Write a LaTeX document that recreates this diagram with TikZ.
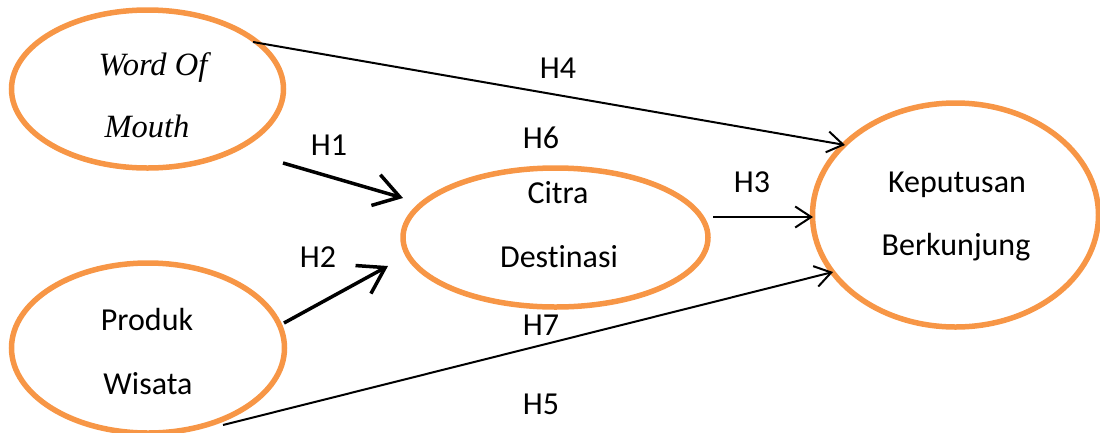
\documentclass[tikz,border=0pt]{standalone}
\usepackage{fontspec}
\setmainfont{Carlito}[Ligatures={NoCommon}]
\newfontfamily\serifit{Liberation Serif}
\usetikzlibrary{arrows.meta,shapes.geometric}
\definecolor{orng}{HTML}{F79646}
\begin{document}
\begin{tikzpicture}[x=1pt,y=-1pt,
  ell/.style={draw=orng, line width=5.5pt, ellipse, inner sep=0pt},
  txt/.style={anchor=base, inner sep=0pt, font=\fontsize{32}{36}\selectfont},
  stxt/.style={anchor=base, inner sep=0pt, font=\serifit\itshape\fontsize{32.5}{36}\selectfont},
  lbl/.style={anchor=base, inner sep=0pt, font=\fontsize{32}{36}\selectfont},
  thin/.style={line width=2pt, -{Straight Barb[length=16pt,width=21pt]}},
  thick/.style={line width=3.5pt, -{Straight Barb[length=25pt,width=32pt]}}]
\useasboundingbox (0,0) rectangle (1100,432);
% ellipses
\node[ell, minimum width=272pt, minimum height=158pt] (wom) at (147.5,89) {};
\node[ell, minimum width=305pt, minimum height=139pt] (cd) at (555.5,237.5) {};
\node[ell, minimum width=286pt, minimum height=224pt] (kb) at (955.5,215) {};
\node[ell, minimum width=273pt, minimum height=170pt] (pw) at (148,348) {};
% texts
\node[stxt] (t1) at (153,75) {Word Of};
\node[stxt] (t2) at (147,137) {Mouth};
\node[txt] (t3) at (558,203) {Citra};
\node[txt] (t4) at (559,267) {Destinasi};
\node[txt] (t5) at (957,192) {Keputusan};
\node[txt] (t6) at (956,255) {Berkunjung};
\node[txt] (t7) at (147,330) {Produk};
\node[txt] (t8) at (148,394) {Wisata};
% labels
\node[lbl] (h4) at (558,78) {H4};
\node[lbl] (h6) at (541,148) {H6};
\node[lbl] (h1) at (329,155) {H1};
\node[lbl] (h3) at (752,192) {H3};
\node[lbl] (h2) at (318,267) {H2};
\node[lbl] (h7) at (541,335) {H7};
\node[lbl] (h5) at (541,414) {H5};
% connector ends
\coordinate (a4s) at (253,42);
\coordinate (a4e) at (845,145);
\coordinate (a1s) at (283,163);
\coordinate (a1e) at (403,198);
\coordinate (a2s) at (284,323);
\coordinate (a2e) at (388,266);
\coordinate (a3s) at (713,217);
\coordinate (a3e) at (813,217);
\coordinate (a5s) at (223,425);
\coordinate (a5e) at (833,272);
\draw[thin] (a4s) -- (a4e);
\draw[thick] (a1s) -- (a1e);
\draw[thick] (a2s) -- (a2e);
\draw[thin] (a3s) -- (a3e);
\draw[thin] (a5s) -- (a5e);
\end{tikzpicture}
\end{document}
